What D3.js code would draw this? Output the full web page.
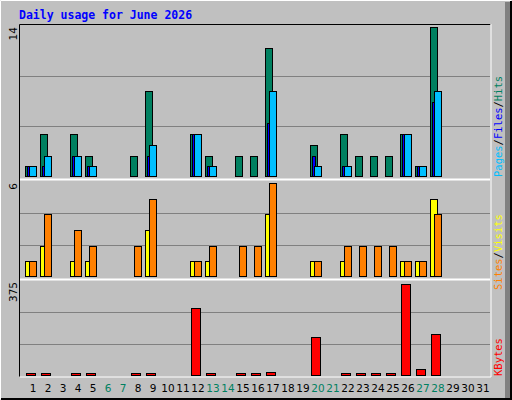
<!DOCTYPE html><html><head><meta charset="utf-8">
<script src="https://cdn.jsdelivr.net/npm/d3@7"></script>
<style>body{margin:0;background:#fff}</style></head><body><svg id="c" width="512" height="400"></svg>
<script>
const days = d3.range(1,32);
const weekends = [6,7,13,14,20,21,27,28];
const hits  = [1,4,0,4,2,0,0,2,8,0,0,4,2,0,2,2,12,0,0,3,0,4,2,2,2,4,1,14,0,0,0];
const files = [1,1,0,2,1,0,0,0,2,0,0,4,1,0,0,0,5,0,0,2,0,1,0,0,0,4,1,7,0,0,0];
const pages = [1,2,0,2,1,0,0,0,3,0,0,4,1,0,0,0,8,0,0,1,0,1,0,0,0,4,1,8,0,0,0];
const visits= [1,2,0,1,1,0,0,0,3,0,0,1,1,0,0,0,4,0,0,1,0,1,0,0,0,1,1,5,0,0,0];
const sites = [1,4,0,3,2,0,0,2,5,0,0,1,2,0,2,2,6,0,0,1,0,2,2,2,2,1,1,4,0,0,0];
const kbytes= [2,6,0,6,2,0,0,2,10,0,0,277,2,0,2,2,16,0,0,159,0,6,2,2,2,375,28,171,0,0,0];
const maxHits=14, maxVisits=6, maxKB=375;

const svg=d3.select("#c");
svg.append("rect").attr("x",0).attr("y",0).attr("width",512).attr("height",400).attr("fill","#c0c0c0");
svg.append("path").attr("d","M0.5,399.5V0.5H511.5").attr("stroke","#fff").attr("fill","none");
svg.append("path").attr("d","M1,399H511V1").attr("stroke","#000").attr("stroke-width",2).attr("fill","none");
svg.append("rect").attr("x",505).attr("y",2).attr("width",5).attr("height",396).attr("fill","#808080");
svg.append("text").attr("x",19).attr("y",19).text("Daily usage for June 2026")
  .attr("font-family","DejaVu Sans Mono").attr("font-weight","bold").attr("font-size",11.5).attr("fill","#0000ff");

const x=d3.scaleLinear().domain([1,32]).range([25,490]);
const L=20,R=490;
const panels=[{t:25,b:177,lab:"14"},{t:181,b:277,lab:"6"},{t:280,b:376,lab:"375"}];
const yH=d3.scaleLinear().domain([0,maxHits]).range([177,27]);
const yV=d3.scaleLinear().domain([0,maxVisits]).range([277,183]);
const yK=d3.scaleLinear().domain([0,maxKB]).range([376,284]);
panels.forEach(p=>{
  const h=(p.b-p.t)/3;
  for(let i=1;i<3;i++) svg.append("line").attr("x1",L).attr("x2",R).attr("y1",Math.round(p.b-i*h)+.5).attr("y2",Math.round(p.b-i*h)+.5).attr("stroke","#808080");
  svg.append("text").attr("transform",`translate(17,${p.t+2}) rotate(-90)`).attr("text-anchor","end")
    .attr("font-family","DejaVu Sans").attr("font-size",10.5).text(p.lab);
});
svg.append("path").attr("d",`M${L-.5},376.5V24.5H${R+.5}`).attr("stroke","#000").attr("fill","none");
svg.append("path").attr("d",`M${L},377H${R+1}V24`).attr("stroke","#fff").attr("fill","none");
[179.5,279.5].forEach(y=>{svg.append("line").attr("x1",L).attr("x2",R).attr("y1",y).attr("y2",y).attr("stroke","#fff").attr("stroke-width",2);});

function bars(data,y,base,dx,w,col){
  svg.append("g").selectAll("rect").data(data.map((v,i)=>({v,d:i+1})).filter(o=>o.v>0)).join("rect")
   .attr("x",o=>x(o.d)+dx+.5).attr("y",o=>Math.min(Math.round(y(o.v)),base-3)+.5).attr("width",w-1)
   .attr("height",o=>base-Math.min(Math.round(y(o.v)),base-3)-1)
   .attr("fill",col).attr("stroke","#000");
}
bars(hits,yH,177,0,8,"#008060");
bars(files,yH,177,2,4,"#0000ff");
bars(pages,yH,177,4,8,"#00bfff");
bars(visits,yV,277,0,8,"#ffff00");
bars(sites,yV,277,4,8,"#ff8000");
bars(kbytes,yK,376,1,10,"#ff0000");

svg.append("g").selectAll("text").data(days).join("text")
  .attr("x",d=>x(d)+8).attr("y",392).attr("text-anchor","middle")
  .attr("font-family","DejaVu Sans").attr("font-size",10.5)
  .attr("fill",d=>weekends.includes(d)?"#008060":"#000").text(d=>d);

function vlab(y,parts){
  const t=svg.append("text").attr("transform",`translate(502,${y}) rotate(-90)`)
    .attr("font-family","DejaVu Sans Mono").attr("font-size",10.5);
  parts.forEach(([s,c])=>t.append("tspan").attr("fill",c).text(s));
}
vlab(177,[["Pages","#00bfff"],["/","#000"],["Files","#0000ff"],["/","#000"],["Hits","#008060"]]);
vlab(290,[["Sites","#ff8000"],["/","#000"],["Visits","#ffff00"]]);
vlab(376,[["KBytes","#ff0000"]]);
</script></body></html>
